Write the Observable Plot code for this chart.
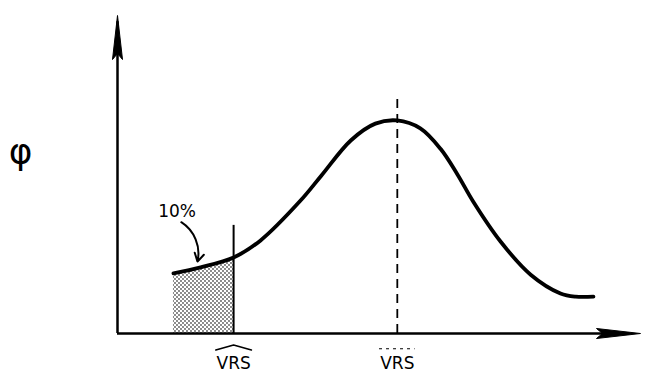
<!DOCTYPE html>
<html>
<head>
<meta charset="utf-8">
<script src="https://cdn.jsdelivr.net/npm/d3@7"></script>
<script src="https://cdn.jsdelivr.net/npm/@observablehq/plot@0.6"></script>
<style>
  html, body { margin: 0; padding: 0; background: #fff; }
  #chart svg { display: block; }
</style>
</head>
<body>
<div id="chart"></div>
<script>
// Curve (relative units)
const curveX = [10.7, 15.9, 22.2, 27.3, 35.0, 39.0, 44.6, 49.3, 53.5, 57.9, 61.8, 65.0, 68.0, 73.2, 79.0, 84.7, 87.6, 91.0];
const curveY = [18.9, 20.8, 23.9, 29.2, 41.8, 49.7, 60.7, 66.0, 67.0, 64.5, 58.0, 50.0, 41.5, 29.0, 18.5, 12.6, 11.6, 11.6];
const lowMark = 22.2;   // lower VRS (10% point)
const peakMark = 53.5;  // VRS at the mode
const lowRuleTop = 34;
const peakRuleTop = 74.8;
const labels = ["VRS", "VRS"];
const yLabel = "φ";
const pctLabel = "10%";

const curve = curveX.map((x, i) => ({x, y: curveY[i]}));
const shaded = curve.filter(d => d.x <= lowMark);

// long narrow filled arrow head pointing up, tip at origin
const headSymbol = {
  draw(ctx, size) {
    const L = 44, W = 5;
    ctx.moveTo(0, 0);
    ctx.lineTo(W, L);
    ctx.lineTo(0, L - 6);
    ctx.lineTo(-W, L);
    ctx.closePath();
  }
};

const plot = Plot.plot({
  width: 651,
  height: 376,
  marginLeft: 117,
  marginRight: 11,
  marginTop: 15,
  marginBottom: 43,
  x: {domain: [0, 100], axis: null},
  y: {domain: [0, 100], axis: null},
  style: {fontFamily: "DejaVu Sans, sans-serif", background: "#fff", color: "#000"},
  marks: [
    Plot.areaY(shaded, {x: "x", y: "y", fill: "url(#dots)", curve: "catmull-rom"}),
    // axes
    Plot.ruleX([0], {y1: 0, y2: 98, stroke: "#000", strokeWidth: 2.5}),
    Plot.ruleY([0], {x1: 0, x2: 98, stroke: "#000", strokeWidth: 2.5}),
    Plot.dot([{x: 0, y: 100}], {x: "x", y: "y", symbol: headSymbol, fill: "#000", stroke: "#000", strokeWidth: 1, r: 1}),
    Plot.dot([{x: 100, y: 0}], {x: "x", y: "y", symbol: headSymbol, rotate: 90, fill: "#000", stroke: "#000", strokeWidth: 1, r: 1}),
    Plot.ruleX([lowMark], {y1: 0, y2: lowRuleTop, stroke: "#000", strokeWidth: 2}),
    Plot.ruleX([peakMark], {y1: 0, y2: peakRuleTop, stroke: "#000", strokeWidth: 1.8, strokeDasharray: "9,6"}),
    Plot.line(curve, {x: "x", y: "y", curve: "catmull-rom", stroke: "#000", strokeWidth: 3.8, strokeLinecap: "round"}),
    Plot.text([labels[0]], {x: lowMark, y: -9.5, text: d => d, fontSize: 17, fill: "#000"}),
    Plot.text([labels[1]], {x: peakMark, y: -9.5, text: d => d, fontSize: 17, fill: "#000"}),
    // hat over first label, dashed bar over second
    Plot.line([{x: lowMark - 3.4, y: -5.2}, {x: lowMark, y: -3.6}, {x: lowMark + 3.4, y: -5.2}], {x: "x", y: "y", stroke: "#000", strokeWidth: 1.6}),
    Plot.ruleY([-4.8], {x1: peakMark - 3.4, x2: peakMark + 3.4, stroke: "#000", strokeWidth: 1.2, strokeDasharray: "3,4"}),
    Plot.text([yLabel], {x: -18.5, y: 57, text: d => d, fontSize: 36, fill: "#000"}),
    Plot.text([pctLabel], {x: 11.4, y: 38.5, text: d => d, fontSize: 17, fill: "#000"}),
    Plot.arrow([{x1: 12.2, y1: 35, x2: 15.3, y2: 22.6}], {x1: "x1", y1: "y1", x2: "x2", y2: "y2", bend: 35, stroke: "#000", strokeWidth: 2, headLength: 7})
  ]
});

// dot pattern for the shaded region
const svg = d3.select(plot);
const defs = svg.insert("defs", ":first-child");
const pat = defs.append("pattern").attr("id", "dots").attr("patternUnits", "userSpaceOnUse").attr("width", 4).attr("height", 4);
pat.append("rect").attr("width", 4).attr("height", 4).attr("fill", "#fff");
pat.append("circle").attr("cx", 1).attr("cy", 1).attr("r", 0.9).attr("fill", "#555");
pat.append("circle").attr("cx", 3).attr("cy", 3).attr("r", 0.9).attr("fill", "#555");

document.getElementById("chart").appendChild(plot);
</script>
</body>
</html>
